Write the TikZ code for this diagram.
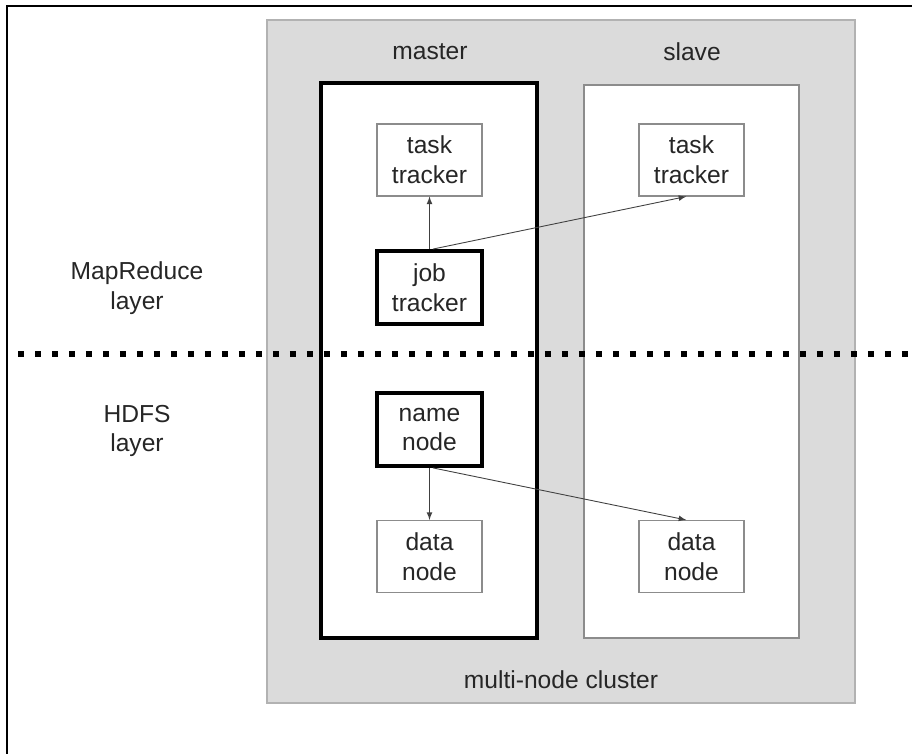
\documentclass[tikz,border=0pt]{standalone}
\usepackage{fontspec}
\setmainfont{Liberation Sans}
\usepackage{tikz}

\begin{document}
\begin{tikzpicture}[
		every node/.style={font=\fontsize{14}{17}\selectfont, text=black!85},
		unit/.style={draw=black!45, line width=0.6pt, fill=white, align=center, minimum width=2.1cm, minimum height=1.44cm},
		boss/.style={unit, draw=black, line width=2.2pt, minimum width=2.1cm, minimum height=1.46cm},
		link/.style={-latex, draw=black!75, line width=0.5pt}
	]
		\useasboundingbox (0,0) rectangle (18.24,15.08);
		\fill [white] (0,0) rectangle (18.24,15.08);
		
		% outer frame (cut at right and bottom)
		\draw [black, line width=1.1pt] (0.14,-0.2) -- (0.14,14.96) -- (18.5,14.96);
		
		% cluster
		\draw [fill=black!14, draw=black!30, line width=0.8pt] (5.34,1.02) rectangle (17.10,14.68);
		\draw [fill=white, line width=2.2pt] (6.42,2.32) rectangle (10.74,13.42);
		\draw [fill=white, draw=black!45, line width=0.8pt] (11.68,2.32) rectangle (15.98,13.38);
		
		\node (master) at (8.6,14.04) {master};
		\node (slave) at (13.84,14.04) {slave};
		\node (cluster) at (11.22,1.48) {multi-node cluster};
		
		% layer labels
		\node (mrlayer) at (2.74,9.32) [align=center] {MapReduce\\layer};
		\node (hdfslayer) at (2.74,6.46) [align=center] {HDFS\\layer};
		
		% upper part
		\node (ttm) at (8.59,11.88) [unit] {task\\tracker};
		\node (tts) at (13.83,11.88) [unit] {task\\tracker};
		\node (jt) at (8.59,9.33) [boss] {job\\tracker};
		\draw [link] (jt.north) -- (ttm.south);
		\draw [link] ([xshift=2pt]jt.north) -- ([xshift=-3pt]tts.south);
		
		% lower part
		\node (nn) at (8.59,6.49) [boss] {name\\node};
		\node (dnm) at (8.59,3.95) [unit] {data\\node};
		\node (dns) at (13.83,3.95) [unit] {data\\node};
		\draw [link] (nn.south) -- (dnm.south |- dnm.north);
		\draw [link] ([xshift=2pt]nn.south) -- ([xshift=-3pt]dns.north);
		
		% layer border
		\draw [black, line width=0.12cm, dash pattern=on 0.12cm off 0.22cm] (0.36,8.0) -- (18.24,8.0);
\end{tikzpicture}
\end{document}
